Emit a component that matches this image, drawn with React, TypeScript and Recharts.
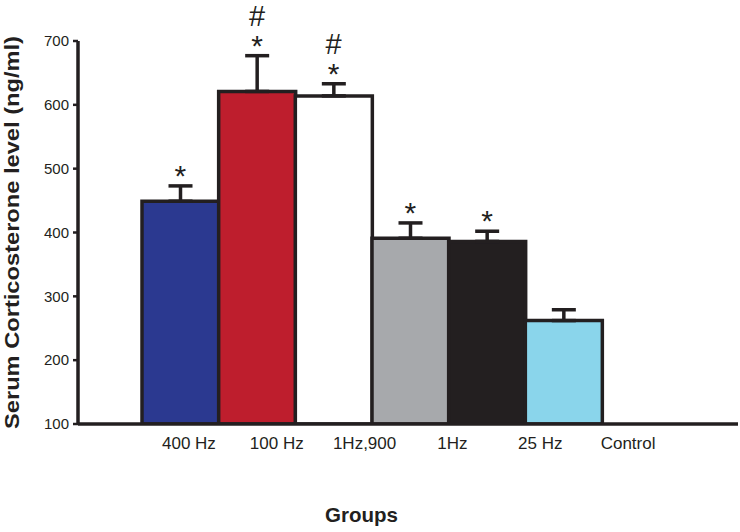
import React from 'react';
import { ComposedChart, Bar, Line, XAxis, YAxis, ErrorBar, Cell, LabelList, Label } from 'recharts';

const categories = ['400 Hz', '100 Hz', '1Hz,900', '1Hz', '25 Hz', 'Control'];
const means = [449, 621, 614, 391, 386, 262];
const errors = [24, 56, 19, 24, 16, 17];
const stars = ['*', '*', '*', '*', '*', ''];
const hashes = ['', '#', '#', '', '', ''];
const colors = ['#2B3990', '#BE1E2D', '#FFFFFF', '#A7A9AC', '#231F20', '#8AD5EB'];
const yTicks = [100, 200, 300, 400, 500, 600, 700];

const data = categories.map((name, i) => ({
  name,
  mean: means[i],
  err: [0, errors[i]],
  top: means[i] + errors[i],
}));

const FONT = '"Liberation Sans", Arial, Helvetica, sans-serif';
const INK = '#231F20';

const SigLabel = (props: any) => {
  const { x, y, index } = props;
  if (x == null || y == null) return null;
  const s = stars[index];
  const h = hashes[index];
  return (
    <g>
      {s ? (
        <text x={x} y={y} textAnchor="middle" fontSize={30} fontFamily={FONT} fill={INK}>
          {s}
        </text>
      ) : null}
      {h ? (
        <text x={x} y={y - 30} textAnchor="middle" fontSize={29} fontFamily={FONT} fill={INK}>
          {h}
        </text>
      ) : null}
    </g>
  );
};

const YTitle = (props: any) => {
  const vb = props.viewBox || {};
  const cy = (vb.y ?? 41) + (vb.height ?? 383) / 2;
  const cx = 18.5;
  return (
    <text
      x={cx}
      y={cy}
      transform={`rotate(-90, ${cx}, ${cy})`}
      textAnchor="middle"
      fontSize={21}
      fontWeight="bold"
      fontFamily={FONT}
      fill={INK}
      textLength={393}
      lengthAdjust="spacingAndGlyphs"
    >
      Serum Corticosterone level (ng/ml)
    </text>
  );
};

const XTitle = (props: any) => {
  const vb = props.viewBox || {};
  const x = (vb.x ?? 78) + 283.5;
  const y = (vb.y ?? 424) + 98;
  return (
    <text
      x={x}
      y={y}
      textAnchor="middle"
      fontSize={21}
      fontWeight="bold"
      fontFamily={FONT}
      fill={INK}
      textLength={73}
      lengthAdjust="spacingAndGlyphs"
    >
      Groups
    </text>
  );
};

export default function App() {
  return (
    <div style={{ position: 'absolute', left: 0, top: 0, width: 740, height: 532, background: '#ffffff' }}>
      <ComposedChart
        width={740}
        height={532}
        data={data}
        margin={{ top: 41, right: 2, left: 0, bottom: 0 }}
        barCategoryGap={0}
        barGap={0}
      >
        <XAxis
          xAxisId="bars"
          dataKey="name"
          type="category"
          hide
          height={0}
          padding={{ left: 64, right: 136 }}
        />
        <XAxis
          xAxisId="labels"
          dataKey="name"
          type="category"
          height={108}
          padding={{ left: 67, right: 66 }}
          axisLine={{ stroke: INK, strokeWidth: 3.5 }}
          tickLine={false}
          tickSize={8}
          tickMargin={5}
          interval={0}
          tick={{ fontSize: 17, fontFamily: FONT, fill: INK }}
        >
          <Label content={<XTitle />} />
        </XAxis>
        <YAxis
          type="number"
          domain={[100, 700]}
          ticks={yTicks}
          width={78}
          axisLine={{ stroke: INK, strokeWidth: 3.5 }}
          tickLine={{ stroke: INK, strokeWidth: 2.5 }}
          tickSize={5}
          tickMargin={4}
          tick={{ fontSize: 15, fontFamily: FONT, fill: INK }}
          allowDataOverflow
        >
          <Label content={<YTitle />} />
        </YAxis>
        <Bar
          xAxisId="bars"
          dataKey="mean"
          stroke={INK}
          strokeWidth={3.5}
          isAnimationActive={false}
        >
          {data.map((d, i) => (
            <Cell key={d.name} fill={colors[i]} />
          ))}
          <ErrorBar dataKey="err" direction="y" width={12} stroke={INK} strokeWidth={3.5} />
        </Bar>
        <Line
          xAxisId="bars"
          dataKey="top"
          stroke="none"
          dot={false}
          activeDot={false}
          isAnimationActive={false}
        >
          <LabelList dataKey="top" content={<SigLabel />} />
        </Line>
      </ComposedChart>
    </div>
  );
}
